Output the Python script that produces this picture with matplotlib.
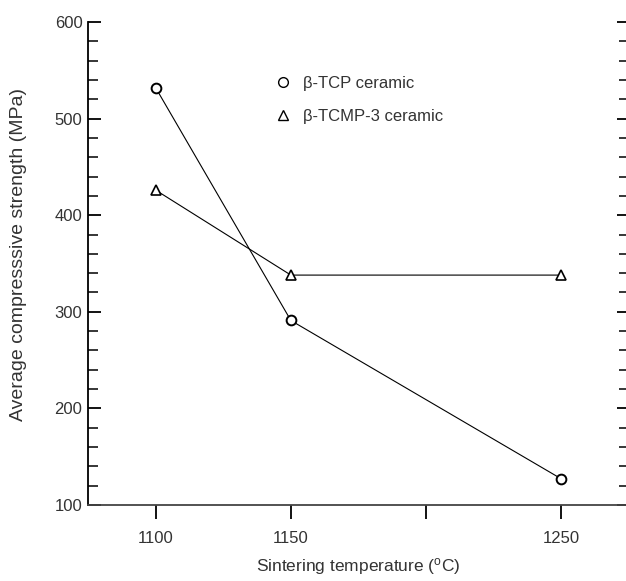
import matplotlib
matplotlib.use("Agg")
import matplotlib.pyplot as plt
from matplotlib.lines import Line2D
from matplotlib.ticker import MultipleLocator, FixedLocator

plt.rcParams['font.family'] = ['Liberation Sans', 'DejaVu Sans']
plt.rcParams['mathtext.fontset'] = 'custom'
plt.rcParams['mathtext.rm'] = 'Liberation Sans'
plt.rcParams['mathtext.it'] = 'Liberation Sans:italic'

# Sintering temperatures (°C)
temperature = [1100, 1150, 1250]
# Average compressive strength (MPa)
tcp_strength = [532, 291, 127]
tcmp3_strength = [426, 338, 338]

series_labels = ['\u03b2-TCP ceramic', '\u03b2-TCMP-3 ceramic']
xtick_values = [1100, 1150, 1200, 1250]
xtick_labels = ['1100', '1150', '', '1250']

W, H = 626, 581
fig = plt.figure(figsize=(W / 100, H / 100), dpi=100)
ax_left, ax_right, ax_top, ax_bottom = 88, 629, 22, 505
ax = fig.add_axes([ax_left / W, (H - ax_bottom) / H,
                   (ax_right - ax_left) / W, (ax_bottom - ax_top) / H])

text_color = '#333333'
fs = 12

ax.plot(temperature, tcp_strength, color='black', lw=0.8,
        marker='o', ms=7, mfc='white', mec='black', mew=1.4, zorder=3)
ax.plot(temperature, tcmp3_strength, color='black', lw=0.8,
        marker='^', ms=7.5, mfc='white', mec='black', mew=1.2, zorder=3)

ax.set_xlim(1075, 1275)
ax.set_ylim(100, 600)

ax.spines['top'].set_visible(False)
ax.spines['right'].set_visible(False)
ax.spines['left'].set_linewidth(1.3)
ax.spines['bottom'].set_linewidth(1.3)
ax.spines['bottom'].set_color('#444444')

ax.xaxis.set_major_locator(FixedLocator(xtick_values))
ax.set_xticklabels(xtick_labels)
ax.tick_params(axis='x', direction='out', length=10, width=1.3,
               labelsize=fs, labelcolor=text_color, pad=9)

ax.yaxis.set_major_locator(MultipleLocator(100))
ax.yaxis.set_minor_locator(MultipleLocator(20))
ax.tick_params(axis='y', which='major', direction='in', length=9, width=1.3,
               left=True, right=True, labelsize=fs, labelcolor=text_color, pad=4)
ax.tick_params(axis='y', which='minor', direction='in', length=7, width=1.1,
               left=True, right=True)

ax.set_xlabel('Sintering temperature ($^{\\rm o}$C)', fontsize=12.5,
              color=text_color, labelpad=7)
ax.set_ylabel('Average compresssive strength (MPa)', fontsize=14,
              color=text_color)
ax.yaxis.set_label_coords(-0.112, 0.518)

handles = [
    Line2D([], [], ls='none', marker='o', ms=7, mfc='white', mec='black', mew=1.0),
    Line2D([], [], ls='none', marker='^', ms=7.5, mfc='white', mec='black', mew=1.0),
]
ax.legend(handles, series_labels, loc='upper left',
          bbox_to_anchor=((275 - ax_left) / (ax_right - ax_left),
                          (ax_bottom - 76) / (ax_bottom - ax_top)),
          frameon=False, fontsize=fs, handlelength=1.0, handletextpad=0.7,
          labelspacing=1.1, borderaxespad=0, borderpad=0,
          labelcolor=text_color)

fig.savefig('out.png', dpi=100)
